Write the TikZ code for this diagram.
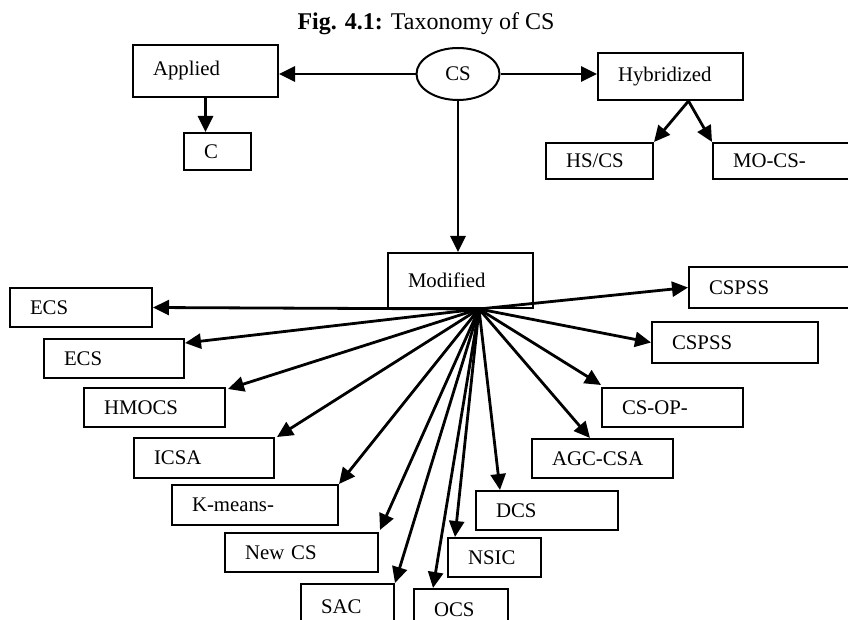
\documentclass[tikz,border=0pt]{standalone}
\usepackage{fontspec}
\setmainfont{Liberation Serif}
\usetikzlibrary{shapes.geometric,arrows.meta}
\newcommand{\leafbox}[6]{\node[box, text width=#4pt, minimum height=#5pt] (#1) at (#2,#3) {#6};}

\begin{document}
\begin{tikzpicture}[x=1pt,y=-1pt,
      box/.style={rectangle,draw=black,line width=2pt,anchor=north west,align=left,inner xsep=20pt,inner ysep=1pt,font=\fontsize{20.8}{24}\selectfont},
      arr/.style={line width=2.8pt,-{Triangle[length=16pt,width=15pt]},draw=black}
      ]
      \useasboundingbox (0,0) rectangle (848,620);
      \clip (0,0) rectangle (848,620);
      \node[font=\fontsize{24}{28}\selectfont,anchor=base] (title) at (426,30) {\textbf{Fig. 4.1:} Taxonomy of CS};
      \node[ellipse,draw=black,line width=2pt,minimum width=83pt,minimum height=52pt,inner sep=0pt,font=\fontsize{20.8}{24}\selectfont] (cs) at (458,74) {CS};
      \leafbox{applied}{132}{44}{105}{52}{Applied}
      \leafbox{hybrid}{597}{52}{105}{47}{Hybridized}
      \leafbox{c}{183}{132}{27}{37}{C}
      \leafbox{hscs}{545}{142}{67}{36}{HS/CS}
      \leafbox{mocs}{712}{142}{120}{36}{MO-CS-}
      \leafbox{modified}{387}{252}{105}{55}{Modified}
      \leafbox{ecs1}{9}{287}{102}{39}{ECS}
      \leafbox{ecs2}{43}{338}{100}{39}{ECS}
      \leafbox{hmocs}{83}{387}{101}{39}{HMOCS}
      \leafbox{icsa}{133}{437}{100}{40}{ICSA}
      \leafbox{kmeans}{171}{484}{126}{40}{K-means-}
      \leafbox{newcs}{224}{532}{113}{39}{New CS}
      \leafbox{sac}{300}{583}{53}{46}{SAC}
      \leafbox{ocs}{413}{588}{54}{42}{OCS}
      \leafbox{nsic}{447}{537}{53}{39}{NSIC}
      \leafbox{dcs}{475}{490}{102}{39}{DCS}
      \leafbox{agc}{531}{438}{101}{39}{AGC-CSA}
      \leafbox{csop}{601}{387}{101}{39}{CS-OP-}
      \leafbox{cspss2}{651}{321}{126}{41}{CSPSS}
      \leafbox{cspss1}{688}{266}{120}{41}{CSPSS}
      \coordinate (hsplit) at ([xshift=18pt]hybrid.south);
      \coordinate (hub) at ([xshift=-55pt]modified.south east);
      \draw[arr] (cs.west) -- (cs.west -| applied.east);
      \draw[arr] (cs.east) -- (cs.east -| hybrid.west);
      \draw[arr] (applied.south) -- (applied.south |- c.north);
      \draw[arr] (cs.south) -- (cs.south |- modified.north);
      \draw[arr] (hsplit) -- (hscs.north east);
      \draw[arr] (hsplit) -- (mocs.north west);
      \foreach \t/\dx/\dy in {ecs1.east/0/0,ecs2.north east/0/-5,hmocs.north east/2/-2,icsa.north east/2/0,kmeans.north east/0/0,newcs.north east/1/2,sac.north east/0/0,ocs.north west/20/0,nsic.north west/8/0,dcs.north west/25/0,agc.north west/59/0,csop.north west/0/2,cspss2.west/0/0,cspss1.west/0/0}
        \draw[arr] (hub) -- ([xshift=\dx pt,yshift=\dy pt]\t);
    \end{tikzpicture}
\end{document}
